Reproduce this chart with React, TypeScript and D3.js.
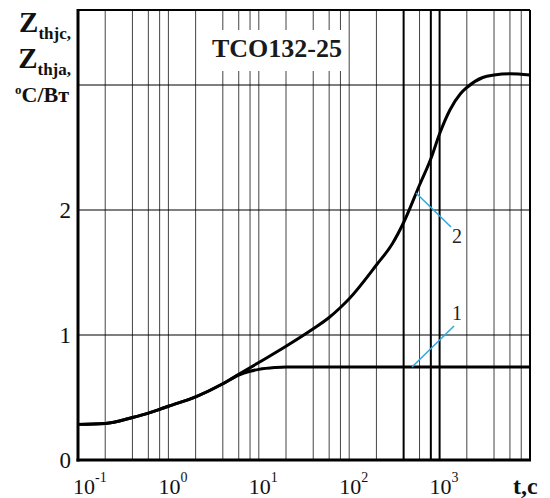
import React from "react";
import * as d3 from "d3";

// time, s (log axis) and thermal impedance, °C/W
const timeSec = [
  0.1, 0.2, 0.4, 0.6, 0.8, 1, 2, 4, 6, 10, 20, 40, 60, 80, 100, 200, 300, 400,
  600, 800, 1000, 1300, 1700, 2000, 3000, 4000, 6000, 10000,
];
// curve 2: Zthja
const zthja = [
  0.285, 0.292, 0.34, 0.375, 0.405, 0.43, 0.505, 0.61, 0.685, 0.78, 0.91, 1.05,
  1.14, 1.22, 1.29, 1.56, 1.73, 1.9, 2.2, 2.41, 2.61, 2.8, 2.93, 2.98, 3.06,
  3.08, 3.09, 3.08,
];
// curve 1: Zthjc
const timeSecJc = [
  0.1, 0.2, 0.4, 0.6, 0.8, 1, 2, 4, 6, 8, 10, 15, 20, 40, 100, 1000, 10000,
];
const zthjc = [
  0.285, 0.292, 0.34, 0.375, 0.405, 0.43, 0.505, 0.61, 0.68, 0.71, 0.725, 0.74,
  0.745, 0.745, 0.745, 0.745, 0.745,
];

const decades = [0.1, 1, 10, 100, 1000];
const gridMultipliers = [1, 2, 4, 6, 8];
const thickGrid = [400, 800, 1000];
const yGrid = [1, 2, 3];
const yTickLabels = [0, 1, 2];
const xTickExp = ["-1", "0", "1", "2", "3"];

const W = 550;
const H = 498;

export default function App() {
  const x = d3.scaleLog().domain([0.1, 10000]).range([78, 530]);
  const y = d3.scaleLinear().domain([0, 3.6]).range([460, 10]);

  const vGrid: number[] = [];
  decades.forEach((d) => gridMultipliers.forEach((m) => vGrid.push(d * m)));

  const line = d3
    .line<[number, number]>()
    .x((d) => x(d[0]))
    .y((d) => y(d[1]))
    .curve(d3.curveMonotoneX);

  const ja = timeSec.map((t, i) => [t, zthja[i]] as [number, number]);
  const jc = timeSecJc.map((t, i) => [t, zthjc[i]] as [number, number]);

  const serif = "Liberation Serif, Times New Roman, serif";
  const blue = "#2aa9e0";

  return (
    <svg
      width={W}
      height={H}
      style={{
        position: "absolute",
        left: 0,
        top: 0,
        background: "#fff",
        fontFamily: serif,
      }}
    >
      {/* grid */}
      {vGrid.map((v) => (
        <line
          key={"v" + v}
          x1={x(v)}
          x2={x(v)}
          y1={y(3.6)}
          y2={y(0)}
          stroke={thickGrid.includes(v) ? "#000" : "#444"}
          strokeWidth={thickGrid.includes(v) ? 2 : 1}
        />
      ))}
      {yGrid.map((v) => (
        <line
          key={"h" + v}
          x1={x(0.1)}
          x2={x(10000)}
          y1={y(v)}
          y2={y(v)}
          stroke="#000"
          strokeWidth={1.2}
        />
      ))}

      {/* title box */}
      <rect x={198} y={30} width={150} height={41} fill="#fff" />
      <text
        x={277}
        y={57}
        textAnchor="middle"
        fontSize={26}
        fontWeight="bold"
        fill="#1a1a1a"
        style={{ fontFamily: serif }}
      >
        TCO132-25
      </text>

      {/* frame */}
      <line x1={x(0.1)} x2={x(10000)} y1={y(3.6)} y2={y(3.6)} stroke="#000" strokeWidth={2} />
      <line x1={x(10000)} x2={x(10000)} y1={y(3.6)} y2={y(0)} stroke="#000" strokeWidth={2} />
      <line x1={x(0.1)} x2={x(0.1)} y1={y(3.6) - 1} y2={y(0) + 1.5} stroke="#000" strokeWidth={3} />
      <line x1={x(0.1) - 1.5} x2={x(10000) + 1} y1={y(0)} y2={y(0)} stroke="#000" strokeWidth={3} />

      {/* curves */}
      <path d={line(jc) || ""} fill="none" stroke="#000" strokeWidth={3} />
      <path d={line(ja) || ""} fill="none" stroke="#000" strokeWidth={3} />

      {/* callouts */}
      <line x1={416} y1={193} x2={451} y2={227} stroke={blue} strokeWidth={1.5} />
      <line x1={412} y1={367} x2={454} y2={326} stroke={blue} strokeWidth={1.5} />
      <text x={457} y={243} textAnchor="middle" fontSize={20} fill="#222" style={{ fontFamily: serif }}>
        2
      </text>
      <text x={457} y={320} textAnchor="middle" fontSize={20} fill="#222" style={{ fontFamily: serif }}>
        1
      </text>

      {/* y ticks */}
      {yTickLabels.map((v) => (
        <text
          key={"yl" + v}
          x={71}
          y={y(v)}
          dy="0.35em"
          textAnchor="end"
          fontSize={23}
          fill="#111"
          style={{ fontFamily: serif }}
        >
          {v}
        </text>
      ))}

      {/* x ticks */}
      {xTickExp.map((e, i) => (
        <text
          key={"xl" + e}
          x={x(decades[i]) - (i === 0 ? 5 : 10)}
          y={494}
          fontSize={22}
          fill="#111"
          style={{ fontFamily: serif }}
        >
          10
          <tspan dy={-12} fontSize={14}>
            {e}
          </tspan>
        </text>
      ))}
      <text x={513} y={494} fontSize={24} fontWeight="bold" fill="#111" style={{ fontFamily: serif }}>
        t,c
      </text>

      {/* y title */}
      <text x={71} y={32} textAnchor="end" fontWeight="bold" fill="#111" style={{ fontFamily: serif }}>
        <tspan fontSize={29}>Z</tspan>
        <tspan fontSize={17} dy={7}>
          thjc,
        </tspan>
      </text>
      <text x={71} y={68} textAnchor="end" fontWeight="bold" fill="#111" style={{ fontFamily: serif }}>
        <tspan fontSize={29}>Z</tspan>
        <tspan fontSize={17} dy={7}>
          thja,
        </tspan>
      </text>
      <text x={69} y={102} textAnchor="end" fontWeight="bold" fill="#111" style={{ fontFamily: serif }}>
        <tspan fontSize={13} dy={-8}>
          o
        </tspan>
        <tspan fontSize={22} dy={8}>
          C/Вт
        </tspan>
      </text>
    </svg>
  );
}
